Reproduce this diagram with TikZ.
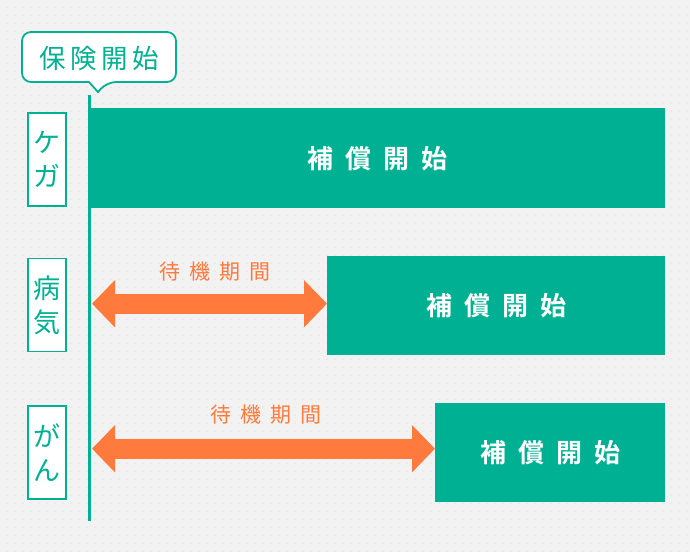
\documentclass[tikz,border=0pt]{standalone}
\usepackage{fontspec}
\setmainfont{Noto Sans CJK JP}[BoldFont={Noto Sans CJK JP Bold}]
\usetikzlibrary{arrows.meta,calc}
\definecolor{teal1}{HTML}{00B092}
\definecolor{orng}{HTML}{FF7A3C}
\definecolor{bgc}{HTML}{F2F2F2}
\definecolor{dotc}{HTML}{E0E0E0}
\tikzset{
  mainbox/.style={fill=teal1, draw=none, text=white, font=\fontsize{26}{30}\selectfont\bfseries, inner sep=0pt},
  labbox/.style={fill=white, draw=teal1, line width=1.5pt, text=teal1, minimum width=38pt, minimum height=93pt, align=center, inner sep=0pt, font=\fontsize{27}{36}\selectfont},
  waitlab/.style={text=orng, font=\fontsize{21}{25}\selectfont},
  warrow/.style={draw=orng, line width=20pt, {Triangle[width=46pt,length=23pt]}-{Triangle[width=46pt,length=23pt]}, shorten <=0pt, shorten >=0pt},
}
\begin{document}
\begin{tikzpicture}[x=1pt,y=-1pt]
\useasboundingbox (0,0) rectangle (690,552);
\fill[bgc] (0,0) rectangle (690,552);
\foreach \yy in {7,15,...,551}{
  \draw[dotc, line width=1.5pt, line cap=round, dash pattern=on 0pt off 8pt] (7,\yy) -- (690,\yy);
}
% callout
\draw[teal1, fill=white, line width=1.8pt, rounded corners=9pt] (22,82) -- (22,32) -- (176,32) -- (176,82) -- (107,82) [sharp corners] -- (98,92) -- (89,82) [rounded corners=9pt] -- cycle;
\node[text=teal1, font=\fontsize{26.5}{30}\selectfont, inner sep=0pt] (start) at (99,58) {保\kern4.5pt 険\kern4.5pt 開\kern4.5pt 始};
% timeline
\coordinate (ltop) at (89,95);
\coordinate (lbot) at (89,521);
\draw[teal1, line width=3pt] (ltop) -- (lbot);
% main boxes
\node[mainbox, minimum width=575pt, minimum height=100pt, anchor=north west] (b1) at (90,108) {補\kern12pt 償\kern12pt 開\kern12pt 始};
\node[mainbox, minimum width=338pt, minimum height=99pt, anchor=north west] (b2) at (327,256) {補\kern12pt 償\kern12pt 開\kern12pt 始};
\node[mainbox, minimum width=230pt, minimum height=99pt, anchor=north west] (b3) at (435,403) {補\kern12pt 償\kern12pt 開\kern12pt 始};
% labels
\node[labbox] (l1) at (47,159.5) {ケ\\[-2pt]ガ};
\node[labbox] (l2) at (47,305) {病\\[-2pt]気};
\node[labbox] (l3) at (47,452.5) {が\\[-2pt]ん};
% arrows
\coordinate (a2s) at ($(ltop|-b2.west)+(3,-2)$);
\coordinate (a2e) at ($(b2.west)+(0,-2)$);
\draw[warrow] (a2s) -- (a2e);
\node[waitlab] (w2) at (215,272) {待\kern9pt 機\kern9pt 期\kern9pt 間};
\coordinate (a3s) at ($(ltop|-b3.west)+(3,-4)$);
\coordinate (a3e) at ($(b3.west)+(0,-4)$);
\draw[warrow] (a3s) -- (a3e);
\node[waitlab] (w3) at (266,415) {待\kern9pt 機\kern9pt 期\kern9pt 間};
\end{tikzpicture}
\end{document}
